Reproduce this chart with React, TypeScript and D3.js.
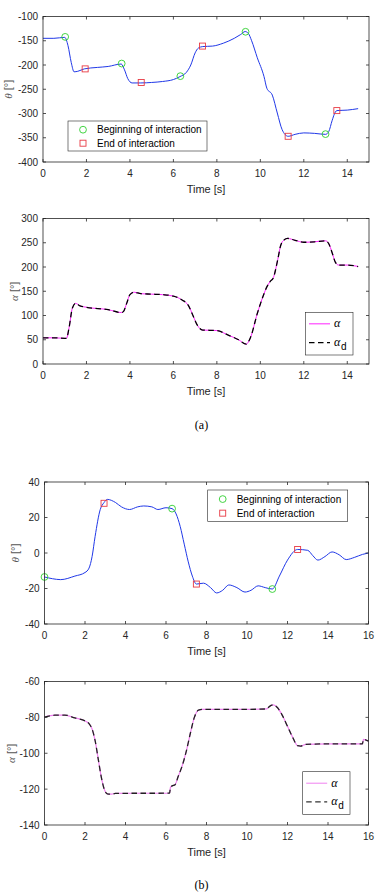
import React from "react";
import * as d3 from "d3";

// ---------- Data (a) ----------
const thetaA_t = [0, 0.5, 1.0, 1.15, 1.3, 1.43, 1.6, 1.9, 2.5, 3.0, 3.6, 3.75, 3.9, 4.1, 4.5, 5.0, 5.5, 6.0, 6.3, 6.6, 6.8, 7.0, 7.15, 7.35, 7.8, 8.3, 8.8, 9.1, 9.3, 9.45, 9.6, 9.86, 10.17, 10.3, 10.55, 10.78, 11.0, 11.28, 11.6, 12.0, 12.5, 13.0, 13.15, 13.3, 13.45, 13.52, 14.0, 14.5];
const thetaA_v = [-145, -145, -143, -160, -195, -214, -213, -208, -205, -203, -198, -210, -228, -237, -237, -236, -234, -230, -224, -215, -200, -175, -165, -162, -161, -155, -145, -137, -131, -135, -150, -185, -224, -248, -262, -299, -333, -347, -343, -340, -341, -343, -337, -315, -297, -294, -293, -290];
const thetaA_begin_t = [1.02, 3.62, 6.32, 9.32, 13.0];
const thetaA_begin_v = [-142, -197, -223, -131.5, -342.5];
const thetaA_end_t = [1.94, 4.52, 7.34, 11.28, 13.52];
const thetaA_end_v = [-208, -236, -161, -347, -294];

const alphaA_t = [0, 0.5, 1.0, 1.08, 1.2, 1.35, 1.5, 1.7, 2.0, 3.0, 3.6, 3.7, 3.85, 4.0, 4.2, 4.5, 5.0, 5.5, 6.0, 6.4, 6.7, 6.9, 7.1, 7.35, 8.0, 8.5, 9.0, 9.35, 9.55, 9.86, 10.17, 10.3, 10.45, 10.6, 10.8, 10.94, 11.1, 11.25, 11.6, 12.0, 12.5, 13.0, 13.15, 13.3, 13.45, 13.6, 14.0, 14.5];
const alphaA_v = [54, 54, 53, 53, 75, 115, 125, 120, 117, 112, 106, 108, 125, 143, 148, 145, 144, 143, 140, 132, 120, 100, 80, 70, 69, 60, 50, 41, 55, 104, 145, 159, 170, 178, 215, 245, 256, 259, 255, 251, 252, 254, 248, 230, 210, 204, 204, 201];
const alphaDA_v = alphaA_v;

// ---------- Data (b) ----------
const thetaB_t = [0, 0.4, 0.8, 1.5, 2.0, 2.2, 2.35, 2.5, 2.75, 2.94, 3.1, 3.5, 3.8, 4.2, 4.6, 4.9, 5.3, 5.6, 6.0, 6.3, 6.5, 6.7, 6.9, 7.1, 7.3, 7.5, 7.85, 8.2, 8.5, 8.8, 9.1, 9.5, 9.9, 10.2, 10.55, 10.9, 11.25, 11.6, 12.0, 12.5, 13.0, 13.25, 13.5, 13.85, 14.2, 14.55, 14.9, 15.3, 15.7, 16.0];
const thetaB_v = [-13.5, -14.5, -15, -13, -11, -8.5, -2, 9.4, 24.4, 28.4, 30.2, 28.5, 26, 24.5, 26, 26.5, 26, 24.5, 25.5, 25, 22, 15, 5, -5, -13, -17.5, -17, -19.5, -22.5, -21, -18, -19.5, -22, -21, -18.5, -19.5, -20.3, -13, -4, 2, 1.5, -1.5, -4, -2, 0.6, -1, -3.7, -2.5, -0.8, 0];
const thetaB_begin_t = [0, 6.3, 11.25];
const thetaB_begin_v = [-13.5, 25, -20.3];
const thetaB_end_t = [2.94, 7.5, 12.5];
const thetaB_end_v = [28, -17.5, 2];

const alphaB_t = [0, 0.5, 1.0, 1.5, 2.0, 2.2, 2.35, 2.5, 2.65, 2.8, 2.95, 3.1, 3.3, 3.5, 4.5, 5.5, 6.18, 6.22, 6.3, 6.45, 6.6, 6.8, 7.0, 7.2, 7.4, 7.6, 7.8, 9.0, 10.0, 10.98, 11.1, 11.3, 11.5, 11.75, 12.0, 12.25, 12.5, 12.65, 12.9, 14.0, 15.0, 15.7, 15.75, 15.85, 16.0];
const alphaB_v = [-79.8, -78.8, -78.7, -80.3, -82, -83.5, -86.5, -93, -103, -113, -120, -122.6, -122.8, -122.4, -122.3, -122.3, -122.2, -119, -118.2, -117.5, -113, -107, -99, -89, -80, -76, -75.5, -75.5, -75.5, -75.3, -74, -73, -74.5, -79, -85, -91, -95.8, -96, -95, -94.8, -94.8, -94.8, -92.3, -92.5, -93.2];
const alphaDB_v = alphaB_v;

const xTicksA = [0, 2, 4, 6, 8, 10, 12, 14];
const xTicksB = [0, 2, 4, 6, 8, 10, 12, 14, 16];
const yTicksA1 = [-400, -350, -300, -250, -200, -150, -100];
const yTicksA2 = [0, 50, 100, 150, 200, 250, 300];
const yTicksB1 = [-40, -20, 0, 20, 40];
const yTicksB2 = [-140, -120, -100, -80, -60];

const AX = "#262626";
const SANS = "'Liberation Sans', Arial, Helvetica, sans-serif";
const SERIF = "'Liberation Serif', 'Times New Roman', serif";
const BLUE = "#2038e8";
const GREEN = "#2fcf2f";
const RED = "#e83a44";

type Box = { l: number; r: number; t: number; b: number };

function Axes({ box, xDomain, yDomain, xTicks, yTicks, ylabel, ylabelX, children }: any) {
  const x = d3.scaleLinear().domain(xDomain).range([box.l, box.r]);
  const y = d3.scaleLinear().domain(yDomain).range([box.b, box.t]);
  const tl = 3;
  return (
    <g>
      {children(x, y)}
      <rect x={box.l} y={box.t} width={box.r - box.l} height={box.b - box.t} fill="none" stroke={AX} strokeWidth={0.8} />
      {xTicks.map((v: number) => (
        <g key={"x" + v}>
          <line x1={x(v)} x2={x(v)} y1={box.b} y2={box.b - tl} stroke={AX} strokeWidth={0.8} />
          <line x1={x(v)} x2={x(v)} y1={box.t} y2={box.t + tl} stroke={AX} strokeWidth={0.8} />
          <text x={x(v)} y={box.b + 15} textAnchor="middle" fontSize={10} fontFamily={SANS} fill={AX}>{v}</text>
        </g>
      ))}
      {yTicks.map((v: number) => (
        <g key={"y" + v}>
          <line x1={box.l} x2={box.l + tl} y1={y(v)} y2={y(v)} stroke={AX} strokeWidth={0.8} />
          <line x1={box.r} x2={box.r - tl} y1={y(v)} y2={y(v)} stroke={AX} strokeWidth={0.8} />
          <text x={box.l - 5} y={y(v) + 3.6} textAnchor="end" fontSize={10} fontFamily={SANS} fill={AX}>{v}</text>
        </g>
      ))}
      <text x={(box.l + box.r) / 2} y={box.b + 31} textAnchor="middle" fontSize={11} fontFamily={SANS} fill={AX}>Time [s]</text>
      <text transform={`translate(${ylabelX},${(box.t + box.b) / 2}) rotate(-90)`} textAnchor="middle" fontSize={11} fill="#555">
        <tspan fontFamily={SERIF} fontStyle="italic">{ylabel}</tspan>
        <tspan fontFamily={SANS}> [°]</tspan>
      </text>
    </g>
  );
}

function MarkerLegend({ l, t, w, h }: any) {
  const r1 = t + h * 0.29;
  const r2 = t + h * 0.74;
  const mx = l + 15;
  return (
    <g>
      <rect x={l} y={t} width={w} height={h} fill="#fff" stroke={AX} strokeWidth={0.6} />
      <circle cx={mx} cy={r1} r={3.4} fill="none" stroke={GREEN} strokeWidth={0.9} />
      <rect x={mx - 3} y={r2 - 3} width={6} height={6} fill="none" stroke={RED} strokeWidth={0.9} />
      <text x={l + 29} y={r1 + 3.6} fontSize={10} fontFamily={SANS} fill="#000">Beginning of interaction</text>
      <text x={l + 29} y={r2 + 3.6} fontSize={10} fontFamily={SANS} fill="#000">End of interaction</text>
    </g>
  );
}

function LineLegend({ l, t, w, h, mag, dash }: any) {
  const r1 = t + h * 0.27;
  const r2 = t + h * 0.71;
  return (
    <g>
      <rect x={l} y={t} width={w} height={h} fill="#fff" stroke={AX} strokeWidth={0.6} />
      <line x1={l + 3.5} x2={l + 24.5} y1={r1} y2={r1} stroke={mag} strokeWidth={1} />
      <line x1={l + 3.5} x2={l + 24.5} y1={r2} y2={r2} stroke={dash} strokeWidth={1.3} strokeDasharray="5.5,3.5" />
      <text x={l + 28.5} y={r1 + 3.5} fontSize={12} fontFamily={SERIF} fontStyle="italic" fill="#000">α</text>
      <text x={l + 28.5} y={r2 + 3.5} fontSize={12} fontFamily={SERIF} fontStyle="italic" fill="#000">α</text>
      <text x={l + 35.5} y={r2 + 7.5} fontSize={10} fontFamily={SANS} fill="#000">d</text>
    </g>
  );
}

function curvePath(x: any, y: any, ts: number[], vs: number[]) {
  const pts = ts.map((t, i) => [t, vs[i]] as [number, number]);
  return d3.line<[number, number]>().x((d) => x(d[0])).y((d) => y(d[1])).curve(d3.curveMonotoneX)(pts) || "";
}

export default function App() {
  const boxA1: Box = { l: 43, r: 369, t: 16.5, b: 162 };
  const boxA2: Box = { l: 43, r: 369, t: 218.5, b: 364 };
  const boxB1: Box = { l: 44.5, r: 368.5, t: 482, b: 624 };
  const boxB2: Box = { l: 44.5, r: 368.5, t: 681.5, b: 825 };

  return (
    <svg width={375} height={894} style={{ position: "absolute", left: 0, top: 0, background: "#fff" }}>
      <rect x={0} y={0} width={375} height={894} fill="#fff" />

      <Axes box={boxA1} xDomain={[0, 15]} yDomain={[-400, -100]} xTicks={xTicksA} yTicks={yTicksA1} ylabel="θ" ylabelX={12}>
        {(x: any, y: any) => (
          <g>
            <path d={curvePath(x, y, thetaA_t, thetaA_v)} fill="none" stroke={BLUE} strokeWidth={1} />
            {thetaA_begin_t.map((t, i) => (
              <circle key={"c" + i} cx={x(t)} cy={y(thetaA_begin_v[i])} r={3.4} fill="none" stroke={GREEN} strokeWidth={0.9} />
            ))}
            {thetaA_end_t.map((t, i) => (
              <rect key={"s" + i} x={x(t) - 3} y={y(thetaA_end_v[i]) - 3} width={6} height={6} fill="none" stroke={RED} strokeWidth={0.9} />
            ))}
          </g>
        )}
      </Axes>
      <MarkerLegend l={68} t={121} w={139} h={30} />

      <Axes box={boxA2} xDomain={[0, 15]} yDomain={[0, 300]} xTicks={xTicksA} yTicks={yTicksA2} ylabel="α" ylabelX={18}>
        {(x: any, y: any) => (
          <g>
            <path d={curvePath(x, y, alphaA_t, alphaA_v)} fill="none" stroke="#ff22ff" strokeWidth={1} />
            <path d={curvePath(x, y, alphaA_t, alphaDA_v)} fill="none" stroke="#000" strokeWidth={1.3} strokeDasharray="5.5,3.5" />
          </g>
        )}
      </Axes>
      <LineLegend l={305.5} t={312.3} w={47.5} h={42.7} mag="#ff22ff" dash="#000" />

      <text x={201.5} y={429} textAnchor="middle" fontSize={12} fontFamily={SERIF} fill="#000">(a)</text>

      <Axes box={boxB1} xDomain={[0, 16]} yDomain={[-40, 40]} xTicks={xTicksB} yTicks={yTicksB1} ylabel="θ" ylabelX={19}>
        {(x: any, y: any) => (
          <g>
            <path d={curvePath(x, y, thetaB_t, thetaB_v)} fill="none" stroke={BLUE} strokeWidth={1} />
            {thetaB_begin_t.map((t, i) => (
              <circle key={"c" + i} cx={x(t)} cy={y(thetaB_begin_v[i])} r={3.4} fill="none" stroke={GREEN} strokeWidth={0.9} />
            ))}
            {thetaB_end_t.map((t, i) => (
              <rect key={"s" + i} x={x(t) - 3} y={y(thetaB_end_v[i]) - 3} width={6} height={6} fill="none" stroke={RED} strokeWidth={0.9} />
            ))}
          </g>
        )}
      </Axes>
      <MarkerLegend l={207.7} t={490} w={140} h={31.3} />

      <Axes box={boxB2} xDomain={[0, 16]} yDomain={[-140, -60]} xTicks={xTicksB} yTicks={yTicksB2} ylabel="α" ylabelX={15}>
        {(x: any, y: any) => (
          <g>
            <path d={curvePath(x, y, alphaB_t, alphaB_v)} fill="none" stroke="#f080f0" strokeWidth={1.2} />
            <path d={curvePath(x, y, alphaB_t, alphaDB_v)} fill="none" stroke="#222" strokeWidth={1.3} strokeDasharray="5.5,3.5" />
          </g>
        )}
      </Axes>
      <LineLegend l={302.7} t={771.7} w={47.3} h={42.6} mag="#f080f0" dash="#333" />

      <text x={201.5} y={889} textAnchor="middle" fontSize={12} fontFamily={SERIF} fill="#000">(b)</text>
    </svg>
  );
}
